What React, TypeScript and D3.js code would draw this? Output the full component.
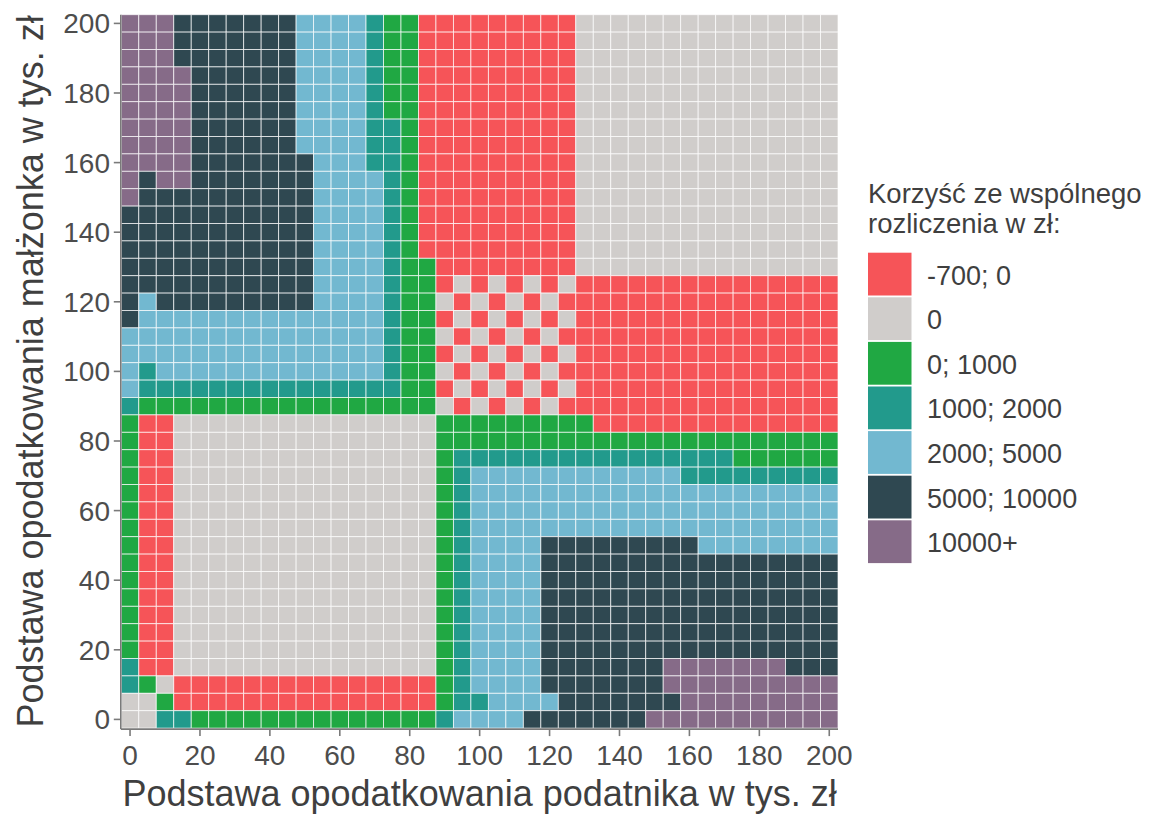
import React from 'react';
import * as d3 from 'd3';

// Grid categories (tys. zł), tiles every 5
const xValues = [0, 5, 10, 15, 20, 25, 30, 35, 40, 45, 50, 55, 60, 65, 70, 75, 80, 85, 90, 95, 100, 105, 110, 115, 120, 125, 130, 135, 140, 145, 150, 155, 160, 165, 170, 175, 180, 185, 190, 195, 200];
const yValues = [0, 5, 10, 15, 20, 25, 30, 35, 40, 45, 50, 55, 60, 65, 70, 75, 80, 85, 90, 95, 100, 105, 110, 115, 120, 125, 130, 135, 140, 145, 150, 155, 160, 165, 170, 175, 180, 185, 190, 195, 200];
const xTicks = [0, 20, 40, 60, 80, 100, 120, 140, 160, 180, 200];
const yTicks = [0, 20, 40, 60, 80, 100, 120, 140, 160, 180, 200];

// Legend classes
const legendCodes = ['R', 'Z', 'G', 'T', 'B', 'D', 'P'];
const legendLabels = ['-700; 0', '0', '0; 1000', '1000; 2000', '2000; 5000', '5000; 10000', '10000+'];
const legendColors = ['#F65458', '#D0CDCB', '#20A843', '#229A8C', '#72B8D0', '#2F4851', '#866B88'];

// Benefit class per tile, rows from y = 200 (top) down to y = 0, run-length encoded along x = 0..200
const benefitRowsTopToBottom = [
  'P3 D7 B4 T1 G2 R9 Z15', // 200
  'P3 D7 B4 T1 G2 R9 Z15', // 195
  'P3 D7 B4 T1 G2 R9 Z15', // 190
  'P4 D6 B4 T1 G2 R9 Z15', // 185
  'P4 D6 B4 T1 G2 R9 Z15', // 180
  'P4 D6 B4 T1 G2 R9 Z15', // 175
  'P4 D6 B4 T2 G1 R9 Z15', // 170
  'P4 D6 B4 T2 G1 R9 Z15', // 165
  'P4 D7 B3 T2 G1 R9 Z15', // 160
  'P1 D1 P2 D7 B4 T1 G1 R9 Z15', // 155
  'P1 D10 B4 T1 G1 R9 Z15', // 150
  'D11 B4 T1 G1 R9 Z15', // 145
  'D11 B4 T1 G1 R9 Z15', // 140
  'D11 B4 T1 G1 R9 Z15', // 135
  'D11 B4 T1 G2 R8 Z15', // 130
  'D11 B4 T1 G2 R1 Z1 R1 Z1 R1 Z1 R1 Z1 R15', // 125
  'D1 B1 D9 B4 T1 G2 Z1 R1 Z1 R1 Z1 R1 Z1 R16', // 120
  'D1 B14 T1 G2 R1 Z1 R1 Z1 R1 Z1 R1 Z1 R15', // 115
  'B15 T1 G2 Z1 R1 Z1 R1 Z1 R1 Z1 R16', // 110
  'B15 T1 G2 R1 Z1 R1 Z1 R1 Z1 R1 Z1 R15', // 105
  'B1 T1 B13 T1 G2 Z1 R1 Z1 R1 Z1 R1 Z1 R16', // 100
  'B1 T15 G2 R1 Z1 R1 Z1 R1 Z1 R1 Z1 R15', // 95
  'T1 G17 Z1 R1 Z1 R1 Z1 R1 Z1 R16', // 90
  'G1 R2 Z15 G9 R14', // 85
  'G1 R2 Z15 G23', // 80
  'G1 R2 Z15 G1 T16 G6', // 75
  'G1 R2 Z15 G1 T1 B12 T9', // 70
  'G1 R2 Z15 G1 T1 B21', // 65
  'G1 R2 Z15 G1 T1 B21', // 60
  'G1 R2 Z15 G1 T1 B21', // 55
  'G1 R2 Z15 G1 T1 B4 D9 B8', // 50
  'G1 R2 Z15 G1 T1 B4 D17', // 45
  'G1 R2 Z15 G1 T1 B4 D17', // 40
  'G1 R2 Z15 G1 T1 B4 D17', // 35
  'G1 R2 Z15 G1 T1 B4 D17', // 30
  'G1 R2 Z15 G1 T1 B4 D17', // 25
  'G1 R2 Z15 G1 T1 B4 D17', // 20
  'T1 R2 Z15 G1 T1 B4 D7 P7 D3', // 15
  'T1 G1 Z1 R15 G1 T1 B4 D7 P10', // 10
  'Z2 G1 R15 G1 T2 B4 D7 P9', // 5
  'Z2 T2 G14 T1 B4 D7 P11', // 0
];

const decodeRow = (rle: string): string[] => {
  const out: string[] = [];
  rle.split(' ').forEach((tok) => {
    const code = tok[0];
    const n = parseInt(tok.slice(1), 10);
    for (let i = 0; i < n; i++) out.push(code);
  });
  return out;
};

const FONT = "'Liberation Sans', Arial, sans-serif";

export default function App() {
  const panelLeft = 121.3;
  const panelRight = 838;
  const panelTop = 14.7;
  const panelBottom = 728.1;

  const x = d3.scaleBand<number>().domain(xValues).range([panelLeft, panelRight]).padding(0);
  const yTopDown = [...yValues].reverse();
  const y = d3.scaleBand<number>().domain(yTopDown).range([panelTop, panelBottom]).padding(0);
  const color = d3.scaleOrdinal<string, string>().domain(legendCodes).range(legendColors);

  const cells: { xv: number; yv: number; code: string }[] = [];
  benefitRowsTopToBottom.forEach((rle, k) => {
    const yv = yTopDown[k];
    decodeRow(rle).forEach((code, i) => {
      if (i < xValues.length) cells.push({ xv: xValues[i], yv, code });
    });
  });

  const bw = x.bandwidth();
  const bh = y.bandwidth();
  const axisColor = '#7a7a7a';
  const tickText = '#4D4D4D';
  const titleText = '#3F3F3F';

  const legendX = 868;
  const legendTop = 252.7;
  const legendPitch = 44.6;

  return (
    <svg width={1155} height={817} style={{ position: 'absolute', left: 0, top: 0, background: '#fff' }}>
      <rect x={0} y={0} width={1155} height={817} fill="#fff" />
      <g>
        {cells.map((c, idx) => (
          <rect
            key={idx}
            x={x(c.xv)}
            y={y(c.yv)}
            width={bw}
            height={bh}
            fill={color(c.code)}
            stroke="#ffffff"
            strokeOpacity={0.75}
            strokeWidth={0.9}
          />
        ))}
      </g>
      {/* axes lines */}
      <line x1={panelLeft - 0.5} x2={panelLeft - 0.5} y1={panelTop} y2={panelBottom + 1} stroke={axisColor} strokeWidth={1.6} />
      <line x1={panelLeft - 0.5} x2={panelRight} y1={panelBottom + 1} y2={panelBottom + 1} stroke={axisColor} strokeWidth={1.6} />
      {/* y ticks */}
      {yTicks.map((t) => {
        const cy = (y(t) as number) + bh / 2;
        return (
          <g key={'yt' + t}>
            <line x1={panelLeft - 7.5} x2={panelLeft - 0.5} y1={cy} y2={cy} stroke={axisColor} strokeWidth={1.6} />
            <text x={110} y={cy + 10} textAnchor="end" fontFamily={FONT} fontSize={28} fill={tickText}>
              {t}
            </text>
          </g>
        );
      })}
      {/* x ticks */}
      {xTicks.map((t) => {
        const cx = (x(t) as number) + bw / 2;
        return (
          <g key={'xt' + t}>
            <line x1={cx} x2={cx} y1={panelBottom + 1} y2={panelBottom + 8} stroke={axisColor} strokeWidth={1.6} />
            <text x={cx} y={765} textAnchor="middle" fontFamily={FONT} fontSize={28} fill={tickText}>
              {t}
            </text>
          </g>
        );
      })}
      {/* axis titles */}
      <text x={(panelLeft + panelRight) / 2} y={806} textAnchor="middle" fontFamily={FONT} fontSize={36} fill={titleText}>
        Podstawa opodatkowania podatnika w tys. zł
      </text>
      <text
        transform={`translate(43, ${(panelTop + panelBottom) / 2}) rotate(-90)`}
        textAnchor="middle"
        fontFamily={FONT}
        fontSize={36}
        fill={titleText}
      >
        Podstawa opodatkowania małżonka w tys. zł
      </text>
      {/* legend */}
      <text x={legendX} y={203} fontFamily={FONT} fontSize={27.5} fill={titleText}>
        Korzyść ze wspólnego
      </text>
      <text x={legendX} y={233} fontFamily={FONT} fontSize={27.5} fill={titleText}>
        rozliczenia w zł:
      </text>
      {legendCodes.map((code, i) => {
        const top = legendTop + i * legendPitch;
        return (
          <g key={'lg' + code}>
            <rect x={legendX} y={top} width={43.5} height={legendPitch - 1.8} fill={color(code)} />
            <text x={927} y={top + legendPitch / 2 + 9.5} fontFamily={FONT} fontSize={27} fill={titleText}>
              {legendLabels[i]}
            </text>
          </g>
        );
      })}
    </svg>
  );
}
